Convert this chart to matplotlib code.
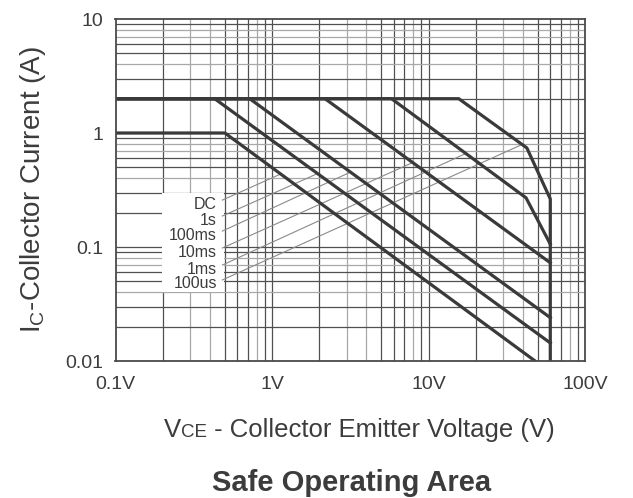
import matplotlib
matplotlib.use("Agg")
import matplotlib.pyplot as plt
from matplotlib.patches import Rectangle
from matplotlib.offsetbox import TextArea, HPacker, AnchoredOffsetbox

plt.rcParams.update({"font.family": ["Liberation Sans", "DejaVu Sans"]})

TXT = "#3c3c3c"
CURVE = "#3a3a3a"

# SOA boundary curves (V, A)
dc_v = [0.1, 0.5, 48]
dc_i = [1, 1, 0.01]
s1_v = [0.1, 0.43, 60]
s1_i = [2, 2, 0.0144]
ms100_v = [0.1, 0.72, 60]
ms100_i = [2, 2, 0.024]
ms10_v = [0.1, 2.18, 60]
ms10_i = [2, 2, 0.0727]
ms1_v = [0.1, 5.8, 42, 60]
ms1_i = [2, 2, 0.27, 0.106]
us100_v = [0.1, 15.6, 42.5, 60, 60]
us100_i = [2, 2, 0.74, 0.264, 0.01]

# labels and leader lines
labels = ["DC", "1s", "100ms", "10ms", "1ms", "100us"]
lead_v0 = 0.482
lead_i0 = [0.258, 0.187, 0.138, 0.098, 0.0695, 0.0514]
lead_v1 = [1.15, 1.95, 3.13, 7.87, 17.1, 38.9]
lead_i1 = [0.44, 0.44, 0.45, 0.548, 0.656, 0.784]

xticks = [0.1, 1, 10, 100]
xticklabels = ["0.1V", "1V", "10V", "100V"]
yticks = [0.01, 0.1, 1, 10]
yticklabels = ["0.01", "0.1", "1", "10"]

fig = plt.figure(figsize=(6.33, 4.98), dpi=100)
ax = fig.add_axes([115.5 / 633, 1 - 361 / 498, (585 - 115.5) / 633, (361 - 19) / 498])
ax.set_xscale("log")
ax.set_yscale("log")
ax.set_xlim(0.1, 100)
ax.set_ylim(0.01, 10)

dark = "#505050"
light = "#a8a8a8"
vcol = {2: dark, 3: light, 4: light, 5: dark, 6: dark, 7: dark, 8: light, 9: dark}
hcol = {2: dark, 3: dark, 4: light, 5: dark, 6: dark, 7: light, 8: light, 9: dark}
for d in [0.1, 1, 10]:
    for m in range(2, 10):
        ax.axvline(m * d, color=vcol[m], lw=0.9, zorder=1)
    if d > 0.1:
        ax.axvline(d, color=dark, lw=0.9, zorder=1)
for d in [0.01, 0.1, 1]:
    for m in range(2, 10):
        ax.axhline(m * d, color=hcol[m], lw=0.9, zorder=1)
    if d > 0.01:
        ax.axhline(d, color=dark, lw=0.9, zorder=1)

ax.add_patch(Rectangle((0.1985, 0.0405), 0.497 - 0.1985, 0.297 - 0.0405,
                       facecolor="white", edgecolor="none", zorder=2))

for v, i in [(dc_v, dc_i), (s1_v, s1_i), (ms100_v, ms100_i), (ms10_v, ms10_i),
             (ms1_v, ms1_i), (us100_v, us100_i)]:
    ax.plot(v, i, color=CURVE, lw=2.3, zorder=4, solid_joinstyle="miter")

for lab, i0, v1, i1 in zip(labels, lead_i0, lead_v1, lead_i1):
    ax.plot([lead_v0, v1], [i0, i1], color="#8a8a8a", lw=0.8, zorder=3)
    ax.text(0.444, i0 * 0.922, lab, ha="right", va="center", fontsize=11.5,
            color=TXT, zorder=5)

for s in ax.spines.values():
    s.set_color("#4a4a4a")
    s.set_linewidth(1.3)
    s.set_zorder(6)

ax.set_xticks(xticks)
ax.set_xticklabels(xticklabels)
ax.set_yticks(yticks)
ax.set_yticklabels(yticklabels)
ax.minorticks_off()
ax.tick_params(length=0, labelsize=14, labelcolor=TXT)
ax.tick_params(axis="x", pad=11)
ax.tick_params(axis="y", pad=9)

ax.set_ylabel(r"I$_\mathregular{C}$-Collector Current (A)", fontsize=20,
              color=TXT, labelpad=12)

parts = [TextArea("V", textprops=dict(size=18.5, color=TXT)),
         TextArea("CE", textprops=dict(size=13.5, color=TXT)),
         TextArea(" - Collector Emitter Voltage (V)", textprops=dict(size=18.5, color=TXT))]
box = HPacker(children=parts, align="baseline", pad=0, sep=0)
xl = AnchoredOffsetbox(loc="center", child=box, pad=0, borderpad=0, frameon=False,
                       bbox_to_anchor=(359 / 633, 1 - 430 / 498),
                       bbox_transform=fig.transFigure)
fig.add_artist(xl)

fig.text(352 / 633, 1 - 483 / 498, "Safe Operating Area", ha="center", va="center",
         fontsize=21, fontweight="bold", color=TXT)

fig.savefig("out.png", dpi=100)
